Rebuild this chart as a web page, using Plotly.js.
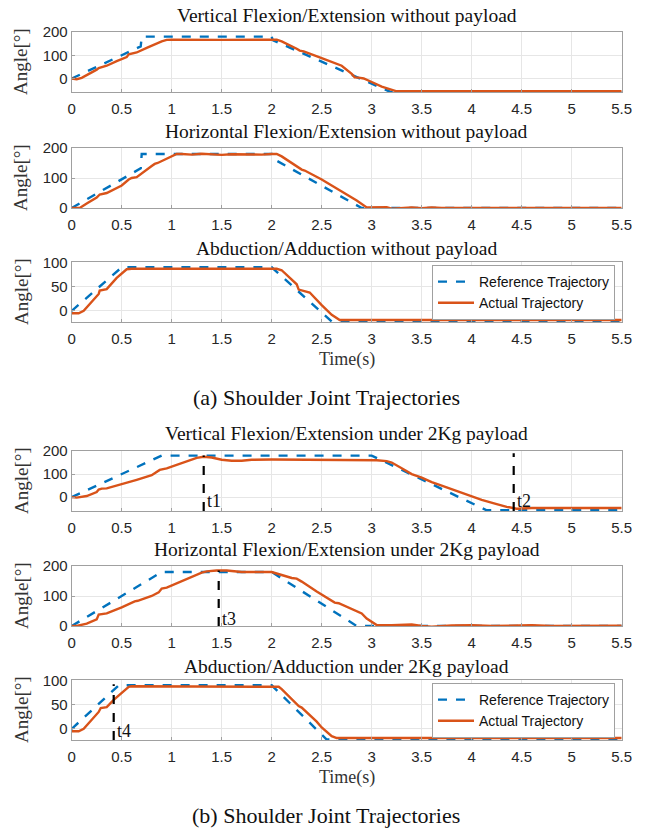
<!DOCTYPE html>
<html>
<head>
<meta charset="utf-8">
<script src="https://cdn.plot.ly/plotly-3.0.1.min.js"></script>
<style>html,body{margin:0;padding:0;background:#fff;}#chart{width:653px;height:830px;}</style>
</head>
<body>
<div id="chart"></div>
<script>
// ---------- DATA ----------
const xTickVals = [0,0.5,1,1.5,2,2.5,3,3.5,4,4.5,5,5.5];
const xTickText = ["0","0.5","1","1.5","2","2.5","3","3.5","4","4.5","5","5.5"];

const subplotTitles = [
  "Vertical Flexion/Extension without payload",
  "Horizontal Flexion/Extension without payload",
  "Abduction/Adduction without payload",
  "Vertical Flexion/Extension under 2Kg payload",
  "Horizontal Flexion/Extension under 2Kg payload",
  "Abduction/Adduction under 2Kg payload"
];
const captions = ["(a) Shoulder Joint Trajectories", "(b) Shoulder Joint Trajectories"];
const seriesNames = ["Reference Trajectory", "Actual Trajectory"];
const yLabel = "Angle[°]";
const xLabel = "Time(s)";

// Plot 1: Vertical, no payload
const vNoRefT = [0, 0.69, 0.70, 2.00, 2.01, 3.20, 5.5];
const vNoRefY = [0, 138, 180, 180, 165, -60, -60];
const vNoActT = [0,0.05,0.1,0.2,0.25,0.27,0.29,0.35,0.45,0.55,0.57,0.59,0.65,0.75,0.85,0.9,0.95,1.0,1.5,2.0,2.05,2.1,2.2,2.25,2.28,2.32,2.5,2.7,2.8,2.83,2.87,2.92,3.0,3.1,3.25,5.5];
const vNoActY = [0,-3,3,25,38,45,48,55,75,92,104,106,112,132,152,160,166,167,166,166,167,160,140,128,120,117,88,55,20,5,4,0,-15,-35,-55,-55];

// Plot 2: Horizontal, no payload
const hNoRefT = [0, 0.69, 0.70, 2.00, 2.01, 2.90, 5.5];
const hNoRefY = [0, 132, 180, 180, 165, 0, 0];
const hNoActT = [0,0.08,0.15,0.25,0.28,0.3,0.35,0.5,0.57,0.6,0.65,0.8,0.83,0.86,1.0,1.05,1.1,1.2,1.3,1.4,1.5,1.6,1.7,1.8,1.9,2.0,2.05,2.1,2.2,2.3,2.33,2.36,2.5,2.7,2.85,2.95,3.05,3.15,3.2,3.3,3.4,3.5,3.6,3.7,3.8,4.0,4.2,4.5,5.0,5.5];
const hNoActY = [0,0,15,35,45,47,50,75,95,100,103,140,147,150,172,180,180,178,181,179,177,179,178,177,178,180,180,172,150,128,125,120,95,55,25,2,3,3,-2,1,2,-1,2,0,0,1,0,0,0,0];

// Plot 3: Abduction, no payload
const aNoRefT = [0, 0.5, 2.0, 2.6, 5.5];
const aNoRefY = [0, 90, 90, -22, -22];
const aNoActT = [0,0.07,0.12,0.2,0.25,0.27,0.28,0.35,0.45,0.55,0.6,1.0,1.5,2.0,2.05,2.1,2.2,2.25,2.27,2.3,2.38,2.5,2.6,2.68,5.5];
const aNoActY = [-5,-5,0,18,30,35,42,45,68,86,87,87,87,87,87,84,66,55,44,42,38,12,-8,-19,-19];

// Plot 4: Vertical, 2Kg payload
const vPlRefT = [0, 0.9, 3.0, 4.15, 5.5];
const vPlRefY = [0, 180, 180, -57, -57];
const vPlActT = [0,0.05,0.15,0.25,0.27,0.3,0.35,0.5,0.65,0.8,0.85,0.88,0.95,1.05,1.15,1.25,1.32,1.4,1.5,1.6,1.7,1.8,2.0,2.5,3.0,3.05,3.15,3.2,3.3,3.4,3.5,3.6,3.7,3.75,3.85,4.0,4.1,4.25,4.35,4.45,4.5,4.6,5.5];
const vPlActY = [0,-2,5,22,33,37,38,55,75,95,108,118,125,140,157,170,175,172,162,158,158,162,163,163,163,160,156,150,125,100,85,65,50,42,28,5,-12,-30,-42,-50,-48,-47,-47];

// Plot 5: Horizontal, 2Kg payload
const hPlRefT = [0, 0.9, 2.0, 2.85, 5.5];
const hPlRefY = [0, 180, 180, 0, 0];
const hPlActT = [0,0.05,0.15,0.25,0.27,0.3,0.35,0.5,0.6,0.63,0.66,0.8,0.87,0.9,0.95,1.1,1.2,1.3,1.35,1.45,1.55,1.7,1.9,2.0,2.1,2.2,2.25,2.3,2.45,2.6,2.63,2.67,2.8,2.9,2.95,3.05,3.2,3.3,3.4,3.5,3.6,3.8,4.0,4.2,4.5,4.6,4.8,5.0,5.3,5.5];
const hPlActY = [0,0,8,22,38,40,42,62,78,82,84,100,112,125,128,150,165,178,182,185,185,180,180,180,170,160,158,148,115,82,78,76,58,42,25,3,3,5,5,0,-2,2,3,0,2,3,0,1,2,1];

// Plot 6: Abduction, 2Kg payload
const aPlRefT = [0, 0.47, 2.0, 2.55, 5.5];
const aPlRefY = [0, 90, 90, -22, -22];
const aPlActT = [0,0.07,0.12,0.2,0.27,0.29,0.35,0.42,0.5,0.57,0.6,1.0,1.5,2.0,2.07,2.1,2.2,2.25,2.27,2.3,2.45,2.5,2.6,2.65,5.5];
const aPlActY = [-5,-5,0,18,35,43,45,60,75,87,88,88,87,87,87,82,62,50,47,44,15,3,-15,-19,-19];

// Event markers
const markX = [1.32, 4.42, 1.47, 0.42];
const markTop = [180, 190, 185, 92];
const markLabels = ["t1", "t2", "t3", "t4"];
const markPlot = [4, 4, 5, 6];
const markLabelY = [-18, -18, 22, -4];

// ---------- LAYOUT HELPERS ----------
const W = 653, H = 830;
const py = px => 1 - px / H;
const boxes = [[32,92],[148,208],[262,322],[451,511],[566,626],[680,740]];
const yRanges = [[-58,200],[0,200],[-23,101],[-60,200],[0,200],[-23,101]];
const yTicks = [[0,100,200],[0,100,200],[0,50,100],[0,100,200],[0,100,200],[0,50,100]];
const titleY = [15,131,248,433,549,666];
const xDomain = [71.7/W, 621.7/W];

const refData = [[vNoRefT,vNoRefY],[hNoRefT,hNoRefY],[aNoRefT,aNoRefY],[vPlRefT,vPlRefY],[hPlRefT,hPlRefY],[aPlRefT,aPlRefY]];
const actData = [[vNoActT,vNoActY],[hNoActT,hNoActY],[aNoActT,aNoActY],[vPlActT,vPlActY],[hPlActT,hPlActY],[aPlActT,aPlActY]];

const BLUE = "#0072BD", ORANGE = "#D95319";
const traces = [];
const layout = {
  width: W, height: H,
  margin: {l:0, r:0, t:0, b:0},
  paper_bgcolor: "#fff", plot_bgcolor: "#fff",
  showlegend: true,
  annotations: [],
  shapes: []
};

const serif = "Liberation Serif, Times New Roman, serif";
const sans = "Liberation Sans, Arial, sans-serif";

for (let i = 0; i < 6; i++) {
  const n = i + 1;
  const xa = n === 1 ? "x" : "x" + n;
  const ya = n === 1 ? "y" : "y" + n;
  const legendId = i === 2 ? "legend" : (i === 5 ? "legend2" : null);
  traces.push({
    x: refData[i][0], y: refData[i][1], xaxis: xa, yaxis: ya,
    mode: "lines", name: seriesNames[0],
    line: {color: BLUE, width: 2.4, dash: "dash"},
    showlegend: legendId !== null, legend: legendId || "legend"
  });
  traces.push({
    x: actData[i][0], y: actData[i][1], xaxis: xa, yaxis: ya,
    mode: "lines", name: seriesNames[1],
    line: {color: ORANGE, width: 2.4},
    showlegend: legendId !== null, legend: legendId || "legend"
  });
  const axisCommon = {
    showline: true, mirror: true, linecolor: "#a0a0a0", linewidth: 1,
    showgrid: true, gridcolor: "#e6e6e6", gridwidth: 1,
    zeroline: false, ticks: "inside", ticklen: 3, tickcolor: "#a0a0a0",
    tickfont: {family: sans, size: 15, color: "#262626"},
    fixedrange: true
  };
  layout["xaxis" + (n === 1 ? "" : n)] = Object.assign({}, axisCommon, {
    domain: xDomain, range: [0, 5.5], anchor: ya, ticklabelstandoff: 3,
    tickmode: "array", tickvals: xTickVals, ticktext: xTickText
  });
  layout["yaxis" + (n === 1 ? "" : n)] = Object.assign({}, axisCommon, {
    domain: [py(boxes[i][1]), py(boxes[i][0])], range: yRanges[i], anchor: xa,
    tickmode: "array", tickvals: yTicks[i], ticktext: yTicks[i].map(String)
  });
  layout.annotations.push({
    text: subplotTitles[i], xref: "paper", yref: "paper",
    x: (xDomain[0] + xDomain[1]) / 2, y: py(titleY[i]), xanchor: "center", yanchor: "middle",
    showarrow: false, font: {family: serif, size: 19.5, color: "#111"}
  });
  layout.annotations.push({
    text: yLabel, xref: "paper", yref: "paper", textangle: -90,
    x: 21 / W, y: py((boxes[i][0] + boxes[i][1]) / 2), xanchor: "center", yanchor: "middle",
    showarrow: false, font: {family: serif, size: 19, color: "#333"}
  });
}

// Event marker lines
for (let k = 0; k < markX.length; k++) {
  const p = markPlot[k];
  const xa = "x" + p, ya = "y" + p;
  traces.push({
    x: [markX[k], markX[k]], y: [yRanges[p-1][0], markTop[k]], xaxis: xa, yaxis: ya,
    mode: "lines", line: {color: "#000", width: 2.2, dash: "dash"}, showlegend: false, hoverinfo: "skip"
  });
  layout.annotations.push({
    text: markLabels[k], xref: xa, yref: ya, x: markX[k] + 0.015, y: markLabelY[k],
    xanchor: "left", yanchor: "middle", showarrow: false,
    font: {family: serif, size: 18, color: "#111"}
  });
}

// x-axis titles and captions
[359, 777].forEach(yy => layout.annotations.push({
  text: xLabel, xref: "paper", yref: "paper", x: (xDomain[0] + xDomain[1]) / 2, y: py(yy),
  xanchor: "center", yanchor: "middle", showarrow: false, font: {family: serif, size: 18, color: "#333"}
}));
[397, 815].forEach((yy, j) => layout.annotations.push({
  text: captions[j], xref: "paper", yref: "paper", x: 326 / W, y: py(yy),
  xanchor: "center", yanchor: "middle", showarrow: false, font: {family: serif, size: 22, color: "#111"}
}));

const legendCommon = {
  xanchor: "left", yanchor: "top", bgcolor: "#fff", bordercolor: "#a0a0a0", borderwidth: 1,
  font: {family: sans, size: 14, color: "#111"}, tracegroupgap: 0, itemwidth: 36
};
layout.legend = Object.assign({}, legendCommon, {x: 432 / W, y: py(265)});
layout.legend2 = Object.assign({}, legendCommon, {x: 432 / W, y: py(683)});

Plotly.newPlot("chart", traces, layout, {staticPlot: true, displayModeBar: false});
</script>
</body>
</html>
